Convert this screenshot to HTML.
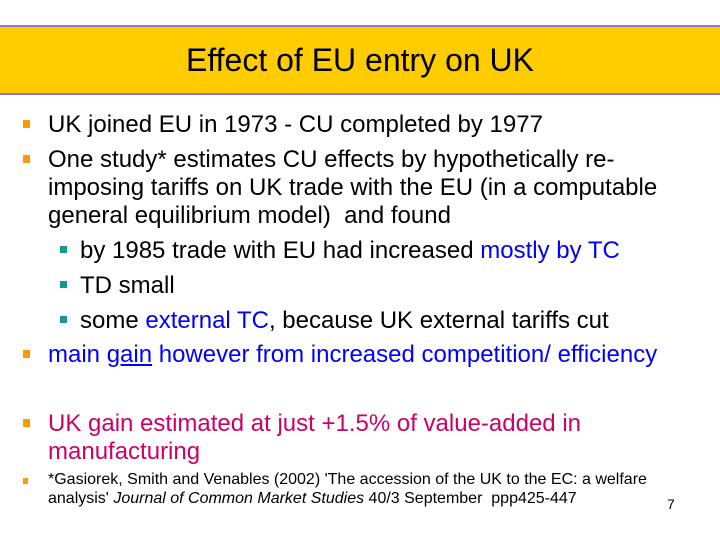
<!DOCTYPE html><html><head><style>
body{margin:0;width:720px;height:540px;background:#fff;position:relative;overflow:hidden;font-family:"Liberation Sans",sans-serif}
.t{position:absolute;white-space:nowrap;line-height:1}
.l{font-size:24px;color:#000}
.b{position:absolute;width:7px;height:8px;background:#f90}
.s{position:absolute;width:7px;height:7px;background:#199}
.bl{color:#00f}.pk{color:#c06}
</style></head><body>
<div style="position:absolute;left:-2px;top:25px;width:723px;height:66px;background:#fc0;border:2px solid #9370db;border-left:none;border-right:none"></div>
<div class="t" style="left:0;width:720px;text-align:center;top:44px;font-size:32px">Effect of EU entry on UK</div>
<div class="b" style="left:23px;top:120px"></div>
<div class="t l" style="left:48px;top:113px">UK joined EU in 1973 - CU completed by 1977</div>
<div class="b" style="left:23px;top:155px"></div>
<div class="t l" style="left:48px;top:148px">One study* estimates CU effects by hypothetically re-</div>
<div class="t l" style="left:48px;top:176px">imposing tariffs on UK trade with the EU (in a computable</div>
<div class="t l" style="left:48px;top:204px">general equilibrium model)&nbsp; and found</div>
<div class="s" style="left:60px;top:246px"></div>
<div class="t l" style="left:80px;top:239px">by 1985 trade with EU had increased <span class="bl">mostly by TC</span></div>
<div class="s" style="left:60px;top:281px"></div>
<div class="t l" style="left:80px;top:274px">TD small</div>
<div class="s" style="left:60px;top:316px"></div>
<div class="t l" style="left:80px;top:309px">some <span class="bl">external TC</span>, because UK external tariffs cut</div>
<div class="b" style="left:23px;top:350px"></div>
<div class="t l bl" style="left:48px;top:343px">main <u>gain</u> however from increased competition/ efficiency</div>
<div class="b" style="left:23px;top:419px"></div>
<div class="t l pk" style="left:48px;top:412px">UK gain estimated at just +1.5% of value-added in</div>
<div class="t l pk" style="left:48px;top:440px">manufacturing</div>
<div class="b" style="left:23px;top:478px;width:5px;height:6px"></div>
<div class="t" style="left:48px;top:472px;font-size:16px">*Gasiorek, Smith and Venables (2002) 'The accession of the UK to the EC: a welfare</div>
<div class="t" style="left:48px;top:491px;font-size:16px">analysis' <i>Journal of Common Market Studies</i> 40/3 September&nbsp; ppp425-447</div>
<div class="t" style="left:667px;top:497px;font-size:14px">7</div>
</body></html>
